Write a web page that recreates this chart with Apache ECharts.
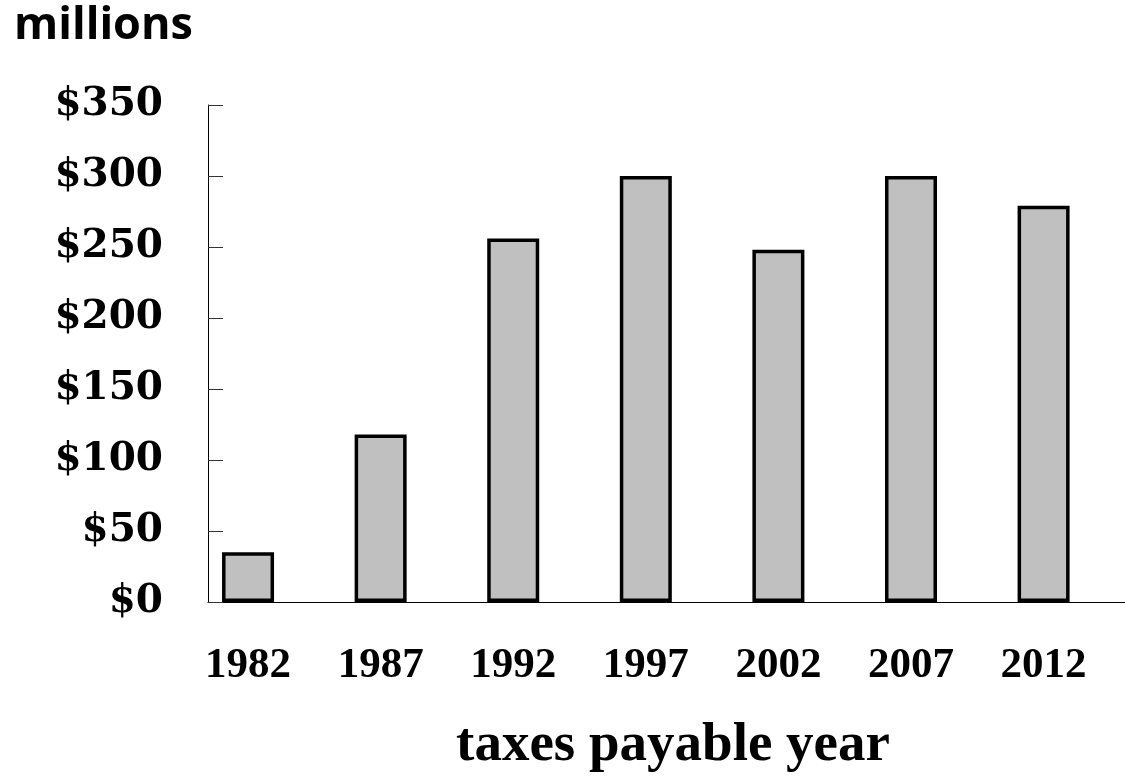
<!DOCTYPE html>
<html>
<head>
<meta charset="utf-8">
<script src="https://cdn.jsdelivr.net/npm/echarts@6/dist/echarts.min.js"></script>
<style>
  html, body { margin: 0; padding: 0; background: #fff; }
  #chart { width: 1125px; height: 783px; }
</style>
</head>
<body>
<div id="chart"></div>
<script>
const years = ['1982', '1987', '1992', '1997', '2002', '2007', '2012']
const taxes = [35, 118, 256, 300, 248, 300, 279]
const yTicks = [0, 50, 100, 150, 200, 250, 300, 350]

const chart = echarts.init(document.getElementById('chart'))

// bars sit on a value axis so the axis line can start left of the first band
const barData = taxes.map((v, i) => [i, v])

chart.setOption({
  animation: false,
  backgroundColor: '#fff',
  graphic: [
    {
      type: 'text',
      x: 14,
      y: 26,
      style: {
        text: 'millions',
        font: 'bold 45px "Open Sans"',
        fill: '#000',
        verticalAlign: 'middle'
      }
    },
    {
      type: 'text',
      x: 673,
      y: 746,
      style: {
        text: 'taxes payable year',
        font: 'bold 55px "Liberation Serif"',
        fill: '#000',
        align: 'center',
        verticalAlign: 'middle'
      }
    }
  ],
  grid: { left: 208, right: 0, top: 105, bottom: 181 },
  xAxis: {
    type: 'value',
    min: -0.302,
    max: 6.614,
    splitLine: { show: false },
    axisTick: { show: false },
    axisLine: { show: true, lineStyle: { color: '#000', width: 1 } },
    axisLabel: {
      customValues: years.map((_, i) => i),
      formatter: (v) => years[Math.round(v)],
      margin: 42,
      color: '#000',
      fontFamily: 'Liberation Serif',
      fontWeight: 'bold',
      fontSize: 43
    }
  },
  yAxis: {
    type: 'value',
    min: 0,
    max: yTicks[yTicks.length - 1],
    interval: 50,
    splitLine: { show: false },
    axisLine: { show: true, onZero: false, lineStyle: { color: '#000', width: 1 } },
    axisTick: { show: true, inside: true, length: 15, lineStyle: { color: '#333', width: 1 } },
    axisLabel: {
      formatter: (v) => '$' + v,
      margin: 45,
      color: '#000',
      fontFamily: 'DejaVu Serif',
      fontWeight: 'bold',
      fontSize: 39
    }
  },
  series: [
    {
      type: 'bar',
      data: barData,
      barWidth: 52,
      itemStyle: {
        color: '#c0c0c0',
        borderColor: '#000',
        borderWidth: 3.5
      }
    }
  ]
})
</script>
</body>
</html>
